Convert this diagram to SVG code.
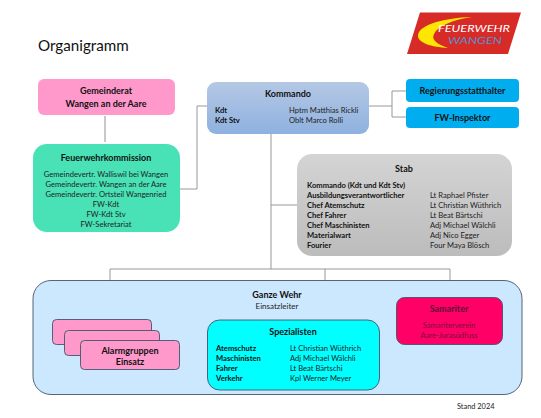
<svg xmlns="http://www.w3.org/2000/svg" width="541" height="418" viewBox="0 0 541 418">
<defs>
<linearGradient id="blue" x1="0" y1="0" x2="0" y2="1"><stop offset="0" stop-color="#b4c8e4"/><stop offset="1" stop-color="#8fb1e0"/></linearGradient>
<linearGradient id="grey" x1="0" y1="0" x2="0" y2="1"><stop offset="0" stop-color="#d4d4d4"/><stop offset="1" stop-color="#bcbcbc"/></linearGradient>
</defs>
<style>
text{font-family:Lato,"Liberation Sans",sans-serif;font-size:7.6px;fill:#222}
.c{text-anchor:middle}
.b{font-weight:700;fill:#111}
.h{font-weight:700;font-size:9px;fill:#111}
.line{fill:none;stroke:#8c8c8c;stroke-width:.9}
.edge{stroke:#44546a;stroke-width:.9}
</style>
<rect width="541" height="418" fill="#fff"/>
<text x="38" y="51" style="font-size:15.2px;fill:#111">Organigramm</text>
<g id="logo">
<polygon points="420,12.500 521,12.500 508,54 407,54" fill="#d62b27"/>
<path d="M472,17 C445,18 420,24 418,35 C417,43 432,47 448,48 C437,44 431,40 434,34 C438,26 452,20 472,17Z" fill="#ffe600"/>
<text x="474" y="32" class="c" textLength="72" lengthAdjust="spacingAndGlyphs" style="font-size:9.500px;font-style:italic;fill:#fff">FEUERWEHR</text>
<text x="475" y="44" class="c" textLength="54" lengthAdjust="spacingAndGlyphs" style="font-size:10px;font-style:italic;fill:#5b8fd0">WANGEN</text>
</g>
<g id="connectors">
<path d="M105,116V142" fill="none" stroke="#c8c8c8" stroke-width="2"/>
<path class="line" d="M180,189H197V106H207"/>
<path class="line" d="M369,106H392M406,91H392V117H406"/>
<path class="line" d="M271,134V269M271,205H297M110,269H450M110,269V319M325,269V320M450,269V297"/>
</g>
<g id="gemeinderat">
<rect x="38" y="79" width="137" height="36" rx="6" fill="#ff99cc"/>
<text x="106" y="94" class="c h">Gemeinderat</text>
<text x="106" y="106.500" class="c h">Wangen an der Aare</text>
</g>
<g id="kommission">
<rect x="33" y="144" width="147" height="88" rx="14" fill="#48e2b6"/>
<text x="106" y="161" class="c h">Feuerwehrkommission</text>
<text x="106" y="177" class="c">Gemeindevertr. Walliswil bei Wangen</text>
<text x="106" y="187" class="c">Gemeindevertr. Wangen an der Aare</text>
<text x="106" y="197" class="c">Gemeindevertr. Ortsteil Wangenried</text>
<text x="106" y="207" class="c">FW-Kdt</text>
<text x="106" y="217" class="c">FW-Kdt Stv</text>
<text x="106" y="227" class="c">FW-Sekretariat</text>
</g>
<g id="kommando">
<rect x="207" y="82" width="162" height="52" rx="9" fill="url(#blue)"/>
<text x="288" y="97" class="c h">Kommando</text>
<text x="215" y="113" class="b">Kdt</text>
<text x="215" y="123" class="b">Kdt Stv</text>
<text x="289" y="113">Hptm Matthias Rickli</text>
<text x="289" y="123">Oblt Marco Rolli</text>
</g>
<g id="regierung">
<rect x="406" y="79" width="113" height="23" rx="4" fill="#00aeef"/>
<text x="462.500" y="94" class="c h">Regierungsstatthalter</text>
</g>
<g id="inspektor">
<rect x="406" y="107" width="113" height="21" rx="4" fill="#00aeef"/>
<text x="462.500" y="121" class="c h">FW-Inspektor</text>
</g>
<g id="stab">
<rect x="297" y="154" width="215" height="102" rx="15" fill="url(#grey)"/>
<text x="404" y="172" class="c h">Stab</text>
<text x="307" y="188" class="b">Kommando (Kdt und Kdt Stv)</text>
<text x="307" y="198" class="b">Ausbildungsverantwortlicher</text>
<text x="307" y="208" class="b">Chef Atemschutz</text>
<text x="307" y="218" class="b">Chef Fahrer</text>
<text x="307" y="228" class="b">Chef Maschinisten</text>
<text x="307" y="238" class="b">Materialwart</text>
<text x="307" y="248" class="b">Fourier</text>
<text x="430" y="198">Lt Raphael Pfister</text>
<text x="430" y="208">Lt Christian Wüthrich</text>
<text x="430" y="218">Lt Beat Bärtschi</text>
<text x="430" y="228">Adj Michael Wälchli</text>
<text x="430" y="238">Adj Nico Egger</text>
<text x="430" y="248">Four Maya Blösch</text>
</g>
<g id="ganze-wehr">
<rect x="33" y="280.500" width="489" height="114" rx="18" fill="#cce8ff" class="edge"/>
<text x="277" y="298" class="c h">Ganze Wehr</text>
<text x="277" y="309" class="c" style="font-size:8px">Einsatzleiter</text>
</g>
<g id="alarmgruppen">
<rect x="52.500" y="319.500" width="99" height="25" rx="4" fill="#ff99cc" class="edge"/>
<rect x="64.500" y="330.500" width="95" height="25" rx="4" fill="#ff99cc" class="edge"/>
<rect x="80.500" y="340.500" width="99" height="29" rx="4" fill="#ff99cc" class="edge"/>
<text x="130" y="354" class="c h">Alarmgruppen</text>
<text x="130" y="365" class="c h">Einsatz</text>
</g>
<g id="spezialisten">
<rect x="207.500" y="320" width="172" height="70" rx="12" fill="#00ffff" class="edge"/>
<text x="293" y="335" class="c h">Spezialisten</text>
<text x="216" y="351" class="b">Atemschutz</text>
<text x="216" y="361" class="b">Maschinisten</text>
<text x="216" y="371" class="b">Fahrer</text>
<text x="216" y="381" class="b">Verkehr</text>
<text x="290" y="351">Lt Christian Wüthrich</text>
<text x="290" y="361">Adj Michael Wälchli</text>
<text x="290" y="371">Lt Beat Bärtschi</text>
<text x="290" y="381">Kpl Werner Meyer</text>
</g>
<g id="samariter">
<rect x="396.500" y="297.500" width="106" height="47" rx="8" fill="#ff0066" class="edge"/>
<text x="449" y="312" class="c h" style="fill:#5e0f33">Samariter</text>
<text x="449" y="328" class="c" style="fill:#7a0f3c">Samariterverein</text>
<text x="449" y="338" class="c" style="fill:#7a0f3c">Aare-Jurasüdfuss</text>
</g>
<text x="457" y="409" style="font-size:7.4px">Stand 2024</text>
</svg>
